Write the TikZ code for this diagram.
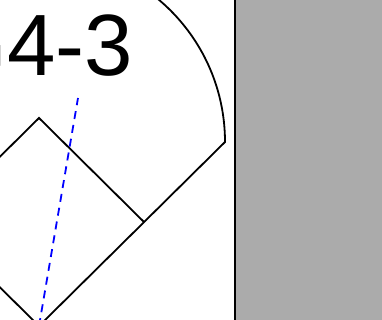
\documentclass[tikz,border=0pt]{standalone}
\usepackage{fontspec}
\setmainfont{Liberation Sans}
\begin{document}
\begin{tikzpicture}[
        x=1pt, y=-1pt,
        field/.style={
            draw=black,
            line width=1.8pt
        },
        hitpath/.style={
            draw=blue,
            line width=1.8pt,
            dash pattern=on 8pt off 6pt
        },
        panel/.style={
            fill=black!33,
            draw=none
        },
        playlabel/.style={
            inner sep=0pt,
            anchor=base east,
            font=\fontsize{87}{90}\selectfont
        }
    ]
    \useasboundingbox (0,0) rectangle (382,320);
    \clip (0,0) rectangle (382,320);

    % Bases and foul poles
    \coordinate (home) at (39,326);
    \coordinate (first) at (144,222);
    \coordinate (second) at (39,118);
    \coordinate (third) at (-66,222);
    \coordinate (rightpole) at (225,142);
    \coordinate (leftpole) at (-147,142);
    \coordinate (ball) at (78,98);

    % Field outline and infield
    \draw[field] (leftpole) -- (home) -- (rightpole)
        arc[start angle=0, end angle=-180, radius=186];
    \draw[field] (first) -- (second) -- (third);

    % Ball path
    \draw[hitpath] (home) -- (ball);

    % Play label
    \node[playlabel] (play) at (133,76) {G4-3};

    % Side panel
    \fill[panel] (235,0) rectangle (382,320);
    \draw[line width=2pt] (235,0) -- (235,320);
\end{tikzpicture}
\end{document}
